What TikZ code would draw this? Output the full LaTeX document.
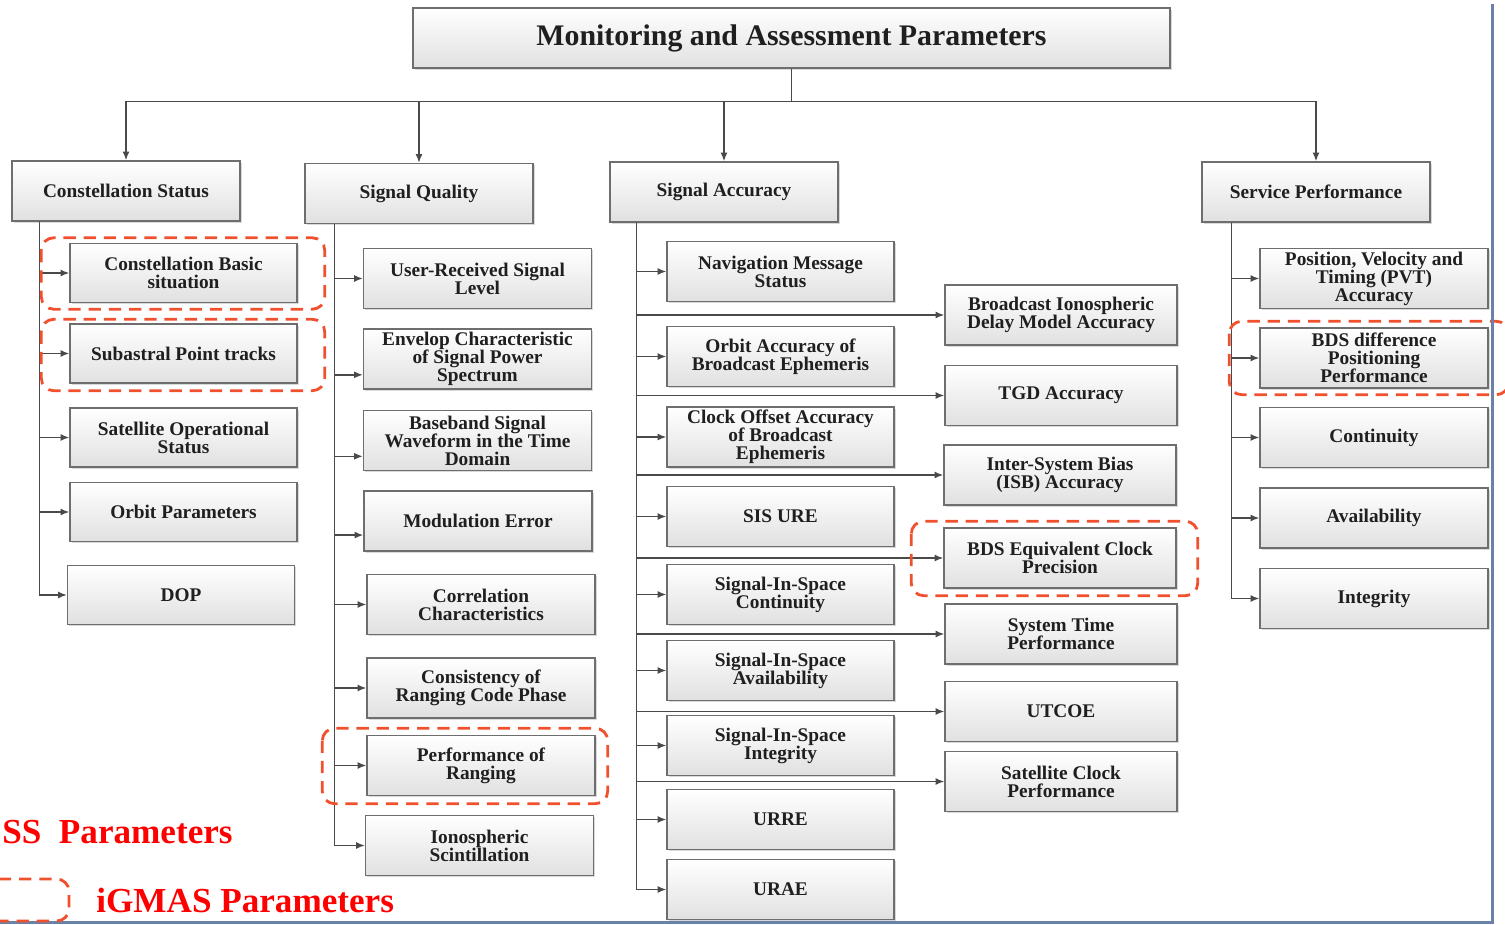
\documentclass[tikz,border=0pt]{standalone}
\usepackage{fontspec}
\setmainfont{Liberation Serif}
\usetikzlibrary{arrows.meta,shadows}
\definecolor{boxline}{HTML}{6E6E6E}
\definecolor{conn}{HTML}{4A4A4A}
\definecolor{igred}{HTML}{F0502D}
\definecolor{frameblue}{HTML}{6A82A8}
\newcommand{\boxfnt}{\bfseries\fontsize{11}{10.2}\selectfont\lineskiplimit=-20pt\lineskip=0pt}

\begin{document}
\begin{tikzpicture}[x=0.02cm,y=-0.02cm,
  box/.style={draw=boxline,line width=.8pt,top color=white,bottom color=black!12,
    drop shadow={shadow xshift=1pt,shadow yshift=-1pt,opacity=.3},
    align=center,font=\boxfnt,text=black!88,inner sep=1pt,
    minimum width=4.56cm,minimum height=1.2cm},
  arr/.style={draw=conn,line width=.8pt,-{Latex[length=5pt,width=4pt]}},
  igmas/.style={draw=igred,line width=1.6pt,dash pattern=on 7pt off 4.5pt,rounded corners=7pt},
  legend/.style={text=red,font=\bfseries\fontsize{20}{20}\selectfont,anchor=west,inner sep=0pt}
]
\clip (0,0) rectangle (1505,925);

\node[box,minimum width=15.14cm,font=\bfseries\fontsize{17}{17}\selectfont] (map) at (791.5,38) {Monitoring and Assessment Parameters};

\node[box] (cs) at (126,191) {Constellation Status};
\node[box] (sq) at (419,193.5) {Signal Quality};
\node[box] (sa) at (724,192) {Signal Accuracy};
\node[box] (sp) at (1316,192) {Service Performance};

\foreach \c in {cs,sq,sa,sp}{
\draw[arr] (map.south) -- ++(0,33) -| (\c.north);
}

\node[box,minimum width=4.54cm,minimum height=1.18cm] (cbs) at (183.5,273) {Constellation Basic\\situation};
\node[box,minimum width=4.54cm,minimum height=1.18cm] (spt) at (183.5,353.5) {Subastral Point tracks};
\node[box,minimum width=4.54cm,minimum height=1.18cm] (sos) at (183.5,437.5) {Satellite Operational\\Status};
\node[box,minimum width=4.54cm,minimum height=1.18cm] (orb) at (183.5,512) {Orbit Parameters};
\node[box,minimum width=4.54cm,minimum height=1.18cm] (dop) at (181,595) {DOP};
\foreach \nm in {cbs,spt,sos,orb,dop}{
\draw[arr] ([xshift=.56cm]cs.south west) |- (\nm.west);
}

\node[box] (urs) at (477.5,278.5) {User-Received Signal\\Level};
\node[box] (env) at (477.5,359) {Envelop Characteristic\\of Signal Power\\Spectrum};
\node[box] (bsw) at (477.5,440.5) {Baseband Signal\\Waveform in the Time\\Domain};
\node[box] (moe) at (478,521) {Modulation Error};
\node[box] (cor) at (481,604.5) {Correlation\\Characteristics};
\node[box] (crc) at (481,688) {Consistency of\\Ranging Code Phase};
\node[box] (pfr) at (481,765.5) {Performance of\\Ranging};
\node[box] (isc) at (479.5,845.5) {Ionospheric\\Scintillation};
\foreach \nm in {urs,cor,crc,pfr,isc}{
\draw[arr] ([xshift=.6cm]sq.south west) |- (\nm.west);
}
\draw[arr] ([xshift=.6cm]sq.south west) |- ([yshift=-9pt]env.west);
\draw[arr] ([xshift=.6cm]sq.south west) |- ([yshift=-9pt]bsw.west);
\draw[arr] ([xshift=.6cm]sq.south west) |- ([yshift=-8pt]moe.west);

\node[box,minimum width=4.54cm] (nav) at (780.5,271.5) {Navigation Message\\Status};
\node[box,minimum width=4.54cm] (oab) at (780.5,356.5) {Orbit Accuracy of\\Broadcast Ephemeris};
\node[box,minimum width=4.54cm] (cob) at (780.5,437) {Clock Offset Accuracy\\of Broadcast\\Ephemeris};
\node[box,minimum width=4.54cm] (sisure) at (780.5,516.5) {SIS URE};
\node[box,minimum width=4.54cm] (sisc) at (780.5,594.5) {Signal-In-Space\\Continuity};
\node[box,minimum width=4.54cm] (sisa) at (780.5,670.5) {Signal-In-Space\\Availability};
\node[box,minimum width=4.54cm] (sisi) at (780.5,745.5) {Signal-In-Space\\Integrity};
\node[box,minimum width=4.54cm] (urre) at (780.5,819.5) {URRE};
\node[box,minimum width=4.54cm] (urae) at (780.5,889.5) {URAE};

\node[box,minimum width=4.64cm] (bid) at (1061,315) {Broadcast Ionospheric\\Delay Model Accuracy};
\node[box,minimum width=4.64cm] (tgd) at (1061,395.5) {TGD Accuracy};
\node[box,minimum width=4.64cm] (isb) at (1060,475) {Inter-System Bias\\(ISB) Accuracy};
\node[box,minimum width=4.64cm] (bec) at (1060,558) {BDS Equivalent Clock\\Precision};
\node[box,minimum width=4.64cm] (stp) at (1061,634) {System Time\\Performance};
\node[box,minimum width=4.64cm] (utc) at (1061,711.5) {UTCOE};
\node[box,minimum width=4.64cm] (scp) at (1061,781.5) {Satellite Clock\\Performance};

\foreach \nm in {nav,oab,cob,sisure,sisc,sisa,sisi,urre,urae,bid,tgd,isb,bec,stp,utc,scp}{
\draw[arr] ([xshift=.54cm]sa.south west) |- (\nm.west);
}

\node[box] (pvt) at (1374,278.5) {Position, Velocity and\\Timing (PVT)\\Accuracy};
\node[box] (bdp) at (1374,358) {BDS difference\\Positioning\\Performance};
\node[box] (con) at (1374,437.5) {Continuity};
\node[box] (ava) at (1374,518) {Availability};
\node[box] (itg) at (1374,598.5) {Integrity};
\foreach \nm in {pvt,bdp,con,ava,itg}{
\draw[arr] ([xshift=.6cm]sp.south west) |- (\nm.west);
}

\draw[igmas] ([shift={(-28,-5)}]cbs.north west) rectangle ([shift={(27,6)}]cbs.south east);
\draw[igmas] ([shift={(-28,-4)}]spt.north west) rectangle ([shift={(27,7)}]spt.south east);
\draw[igmas] ([shift={(-44,-6.5)}]pfr.north west) rectangle ([shift={(12,7.5)}]pfr.south east);
\draw[igmas] ([shift={(-32,-6)}]bec.north west) rectangle ([shift={(21,7)}]bec.south east);
\draw[igmas] ([shift={(-30,-6)}]bdp.north west) rectangle ([shift={(20,6)}]bdp.south east);

\draw[frameblue,line width=1.6pt] (0,922.5) -| (1492.5,4);

\node[legend] (gss) at (2,832) {SS~~Parameters};
\draw[igmas] (-40,879) rectangle (69,921);
\node[legend] (igm) at (96,900) {iGMAS Parameters};

\end{tikzpicture}
\end{document}
